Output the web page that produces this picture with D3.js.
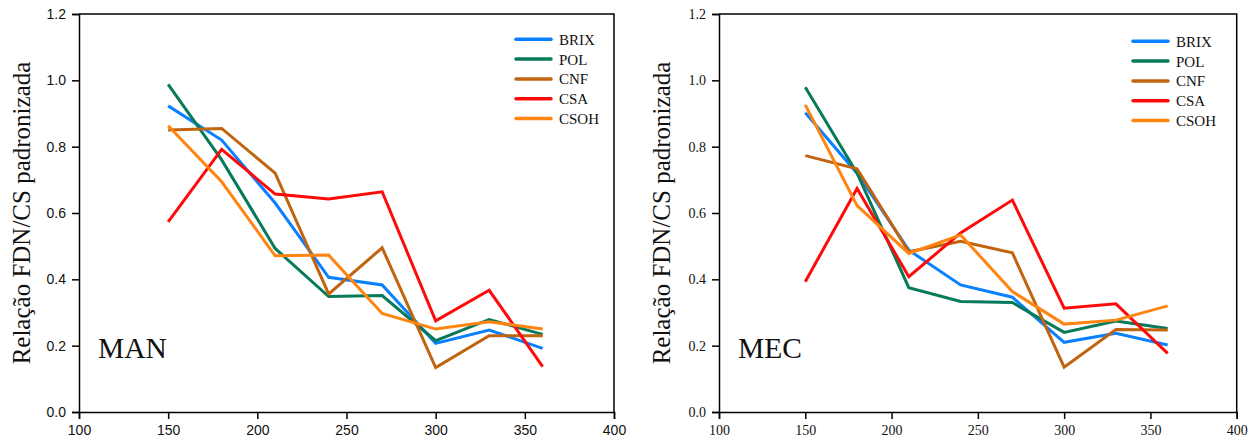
<!DOCTYPE html>
<html>
<head>
<meta charset="utf-8">
<script src="https://cdn.jsdelivr.net/npm/d3@7"></script>
<style>
  body { margin: 0; background: #fff; }
  svg { display: block; }
  .serif { font-family: "Times New Roman", "Liberation Serif", "DejaVu Serif", serif; }
  .sans { font-family: Arial, "Liberation Sans", sans-serif; }
</style>
</head>
<body>
<div id="chart"></div>
<script>
// Dados
const doses = [150, 180, 210, 240, 270, 300, 330, 360];
const seriesNames = ["BRIX", "POL", "CNF", "CSA", "CSOH"];
const seriesColors = ["#0a80ff", "#067a5a", "#c06410", "#ff0a0a", "#ff8410"];
const xTicks = [100, 150, 200, 250, 300, 350, 400];
const yTicks = [0.0, 0.2, 0.4, 0.6, 0.8, 1.0, 1.2];

const manBrix = [0.923, 0.82, 0.63, 0.406, 0.383, 0.207, 0.247, 0.192];
const manPol  = [0.988, 0.76, 0.493, 0.348, 0.351, 0.215, 0.279, 0.234];
const manCnf  = [0.85, 0.855, 0.72, 0.356, 0.495, 0.134, 0.23, 0.23];
const manCsa  = [0.573, 0.792, 0.657, 0.642, 0.664, 0.275, 0.367, 0.137];
const manCsoh = [0.863, 0.694, 0.471, 0.473, 0.297, 0.25, 0.272, 0.25];

const mecBrix = [0.902, 0.72, 0.488, 0.383, 0.346, 0.21, 0.237, 0.202];
const mecPol  = [0.979, 0.72, 0.375, 0.333, 0.33, 0.24, 0.274, 0.252];
const mecCnf  = [0.773, 0.733, 0.483, 0.515, 0.48, 0.135, 0.249, 0.247];
const mecCsa  = [0.393, 0.674, 0.408, 0.54, 0.639, 0.313, 0.326, 0.177];
const mecCsoh = [0.926, 0.622, 0.478, 0.534, 0.363, 0.265, 0.277, 0.32];

const svg = d3.select("#chart").append("svg")
    .attr("width", 1257)
    .attr("height", 441);

function drawPanel(opt) {
    const x = d3.scaleLinear().domain([100, 400]).range([opt.x0, opt.x1]);
    const y = d3.scaleLinear().domain([0, 1.2]).range([412, 14]);
    const g = svg.append("g");

    // moldura (topo e direita)
    g.append("path")
        .attr("d", `M${opt.x0},${y(1.2)}H${opt.x1}V${y(0)}`)
        .attr("fill", "none")
        .attr("stroke", "#000")
        .attr("stroke-width", 1.5);

    // eixos
    const xAxis = g.append("g")
        .attr("transform", `translate(0,${y(0)})`)
        .call(d3.axisBottom(x).tickValues(xTicks).tickSize(7).tickPadding(6).tickFormat(d3.format("d")));
    const yAxis = g.append("g")
        .attr("transform", `translate(${opt.x0},0)`)
        .call(d3.axisLeft(y).tickValues(yTicks).tickSize(7).tickPadding(6).tickFormat(d3.format(".1f")));
    [xAxis, yAxis].forEach(a => {
        a.attr("font-family", null).attr("font-size", null);
        a.select(".domain").attr("stroke-width", 1.5);
        a.selectAll(".tick line").attr("stroke-width", 1.5);
        a.selectAll("text")
            .attr("class", opt.tickClass)
            .attr("fill", "#111")
            .style("font-size", "14px");
    });

    // linhas
    const line = d3.line()
        .x((d, i) => x(doses[i]))
        .y(d => y(d));
    opt.series.forEach((s, k) => {
        g.append("path")
            .datum(s)
            .attr("fill", "none")
            .attr("stroke", seriesColors[k])
            .attr("stroke-width", 3)
            .attr("stroke-linejoin", "miter")
            .attr("d", line);
    });

    // legenda
    seriesNames.forEach((name, k) => {
        const ly = opt.legY + k * 19.8;
        g.append("line")
            .attr("x1", opt.legX).attr("x2", opt.legX + 35)
            .attr("y1", ly).attr("y2", ly)
            .attr("stroke", seriesColors[k])
            .attr("stroke-width", 3.5)
            .attr("stroke-linecap", "round");
        g.append("text")
            .attr("class", "serif")
            .attr("x", opt.legX + 43)
            .attr("y", ly + 5.5)
            .style("font-size", "15px")
            .attr("fill", "#111")
            .text(name);
    });

    // rótulo do painel
    g.append("text")
        .attr("class", "serif")
        .attr("x", opt.x0 + 19)
        .attr("y", 358)
        .style("font-size", "29.5px")
        .attr("fill", "#111")
        .text(opt.label);

    // título do eixo Y
    g.append("text")
        .attr("class", "serif")
        .attr("text-anchor", "middle")
        .attr("transform", `translate(${opt.x0 - 49},${(y(0) + y(1.2)) / 2}) rotate(-90)`)
        .style("font-size", "25px")
        .attr("fill", "#111")
        .text("Relação FDN/CS padronizada");
}

drawPanel({
    x0: 79, x1: 614, label: "MAN",
    tickClass: "sans",
    legX: 516, legY: 39.3,
    series: [manBrix, manPol, manCnf, manCsa, manCsoh]
});

drawPanel({
    x0: 719, x1: 1236.7, label: "MEC",
    tickClass: "serif",
    legX: 1133, legY: 41.3,
    series: [mecBrix, mecPol, mecCnf, mecCsa, mecCsoh]
});
</script>
</body>
</html>
